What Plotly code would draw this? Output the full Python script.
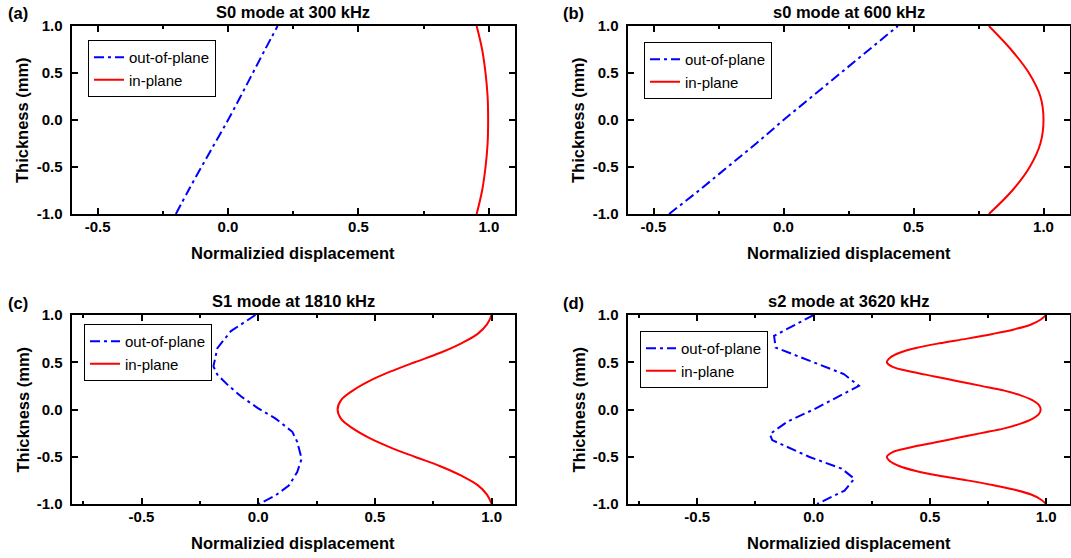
import plotly.graph_objects as go

W, H = 1071, 558

# ---------------- data ----------------
a_thick = [-1.0, -0.75, -0.5, -0.25, 0.0, 0.25, 0.5, 0.75, 1.0]
a_out = [-0.20, -0.152, -0.102, -0.051, 0.0, 0.048, 0.095, 0.142, 0.19]
a_in = [0.953, 0.974, 0.987, 0.995, 0.997, 0.995, 0.987, 0.974, 0.953]

b_thick = [-1.0, -0.75, -0.5, -0.25, 0.0, 0.25, 0.5, 0.75, 1.0]
b_out = [-0.44, -0.325, -0.215, -0.105, 0.0, 0.11, 0.22, 0.33, 0.44]
b_in = [0.79, 0.88, 0.947, 0.988, 1.0, 0.988, 0.944, 0.875, 0.79]

c_out_thick = [1.0, 0.83, 0.65, 0.51, 0.456, 0.368, 0.261, 0.137, 0.012,
               -0.094, -0.236, -0.343, -0.52, -0.663, -0.805, -0.911, -1.0]
c_out = [-0.012, -0.117, -0.175, -0.189, -0.192, -0.175, -0.131, -0.073, 0.0,
         0.073, 0.146, 0.167, 0.186, 0.167, 0.131, 0.073, 0.003]
c_in_thick = [1.0, 0.9, 0.8, 0.7, 0.6, 0.5, 0.4, 0.3, 0.2, 0.1, 0.0,
              -0.1, -0.2, -0.3, -0.4, -0.5, -0.6, -0.7, -0.8, -0.9, -1.0]
c_in = [1.0, 0.98, 0.94, 0.87, 0.78, 0.67, 0.565, 0.475, 0.405, 0.355, 0.34,
        0.355, 0.405, 0.475, 0.565, 0.67, 0.78, 0.87, 0.94, 0.98, 1.0]

d_out_thick = [1.0, 0.875, 0.779, 0.655, 0.5, 0.375, 0.25, 0.125, 0.0,
               -0.125, -0.26, -0.324, -0.5, -0.625, -0.733, -0.858, -1.0]
d_out = [0.0, -0.10, -0.17, -0.163, -0.005, 0.13, 0.195, 0.10, 0.0,
         -0.11, -0.188, -0.178, -0.02, 0.12, 0.175, 0.133, 0.015]
d_in_thick = [1.0, 0.95, 0.9, 0.85, 0.8, 0.75, 0.7, 0.65, 0.6, 0.55, 0.5,
              0.45, 0.4, 0.35, 0.3, 0.25, 0.2, 0.15, 0.1, 0.05, 0.0,
              -0.05, -0.1, -0.15, -0.2, -0.25, -0.3, -0.35, -0.4, -0.45, -0.5,
              -0.55, -0.6, -0.65, -0.7, -0.75, -0.8, -0.85, -0.9, -0.95, -1.0]
d_in = [1.0, 0.975, 0.935, 0.865, 0.77, 0.66, 0.54, 0.44, 0.37, 0.33, 0.315,
        0.34, 0.42, 0.52, 0.62, 0.72, 0.82, 0.89, 0.94, 0.968, 0.976,
        0.968, 0.94, 0.89, 0.82, 0.72, 0.62, 0.52, 0.42, 0.34, 0.315,
        0.33, 0.37, 0.44, 0.54, 0.66, 0.77, 0.865, 0.935, 0.975, 1.0]

titles = ["S0 mode at 300 kHz", "s0 mode at 600 kHz", "S1 mode at 1810 kHz", "s2 mode at 3620 kHz"]
letters = ["(a)", "(b)", "(c)", "(d)"]
x_ranges = [[-0.6, 1.1], [-0.6, 1.1], [-0.8, 1.1], [-0.8, 1.1]]
x_ticks = [-0.5, 0.0, 0.5, 1.0]
x_ticklabels = ["-0.5", "0.0", "0.5", "1.0"]
y_ticks = [-1.0, -0.5, 0.0, 0.5, 1.0]
y_ticklabels = ["-1.0", "-0.5", "0.0", "0.5", "1.0"]
series_names = ["out-of-plane", "in-plane"]
x_label = "Normalizied displacement"
y_label = "Thickness (mm)"

panels = [
    (a_out, a_thick, a_in, a_thick, "spline", "spline"),
    (b_out, b_thick, b_in, b_thick, "linear", "spline"),
    (c_out, c_out_thick, c_in, c_in_thick, "linear", "spline"),
    (d_out, d_out_thick, d_in, d_in_thick, "linear", "spline"),
]

# ---------------- layout geometry (pixels) ----------------
col_px = [(71.5, 515.0), (627.5, 1069.5)]
row_px = [(26.0, 214.0), (315.0, 504.0)]
legend_px = [(88, 40), (644, 42), (84, 324), (640, 331)]

FONT = "Arial, Liberation Sans, sans-serif"
BLUE = "#0000ff"
RED = "#ff0000"

fig = go.Figure()
layout = dict(
    width=W, height=H, autosize=False,
    margin=dict(l=0, r=0, t=0, b=0, autoexpand=False),
    paper_bgcolor="white", plot_bgcolor="white",
    font=dict(family=FONT, color="black"),
    annotations=[],
)

for i, (xo, yo, xi, yi, sh_o, sh_i) in enumerate(panels):
    r, c = divmod(i, 2)
    n = "" if i == 0 else str(i + 1)
    xa, ya = "x" + n, "y" + n
    leg = "legend" if i == 0 else "legend" + str(i + 1)
    fig.add_trace(go.Scatter(
        x=xo, y=yo, mode="lines", name=series_names[0], xaxis=xa, yaxis=ya,
        legend=leg, line=dict(color=BLUE, width=2, dash="10px,4px,3px,4px", shape=sh_o)))
    fig.add_trace(go.Scatter(
        x=xi, y=yi, mode="lines", name=series_names[1], xaxis=xa, yaxis=ya,
        legend=leg, line=dict(color=RED, width=2, shape=sh_i, smoothing=1.0)))

    x0, x1 = col_px[c]
    y0, y1 = row_px[r]
    axis_common = dict(
        showline=True, linecolor="black", linewidth=2, mirror="allticks",
        ticks="inside", ticklen=6, tickwidth=1.5, tickcolor="black",
        showgrid=False, zeroline=False, automargin=False,
        tickfont=dict(family=FONT, size=15, color="black", weight="bold"),
    )
    layout["xaxis" + n] = dict(
        axis_common, domain=[x0 / W, x1 / W], range=x_ranges[i], anchor=ya,
        tickvals=x_ticks, ticktext=x_ticklabels, ticklabelstandoff=-2,
        minor=dict(ticks="inside", ticklen=3, tickwidth=1.5, tickcolor="black",
                   tickvals=[-0.75, -0.25, 0.25, 0.75]),
    )
    layout["yaxis" + n] = dict(
        axis_common, domain=[1 - y1 / H, 1 - y0 / H], range=[-1.0, 1.0], anchor=xa,
        tickvals=y_ticks, ticktext=y_ticklabels, ticklabelstandoff=4,
    )
    lx, ly = legend_px[i]
    layout[leg] = dict(
        x=lx / W, y=1 - ly / H, xanchor="left", yanchor="top",
        bgcolor="white", bordercolor="black", borderwidth=1,
        font=dict(family=FONT, size=15, color="black"),
        tracegroupgap=0, itemwidth=30,
    )
    cx = (x0 + x1) / 2
    layout["annotations"] += [
        dict(text=titles[i], x=cx / W, y=1 - (y0 - 14) / H, xref="paper", yref="paper",
             showarrow=False, xanchor="center", yanchor="middle",
             font=dict(family=FONT, size=16.5, color="black", weight="bold")),
        dict(text=x_label, x=cx / W, y=1 - (y1 + 39) / H, xref="paper", yref="paper",
             showarrow=False, xanchor="center", yanchor="middle",
             font=dict(family=FONT, size=16.5, color="black", weight="bold")),
        dict(text=y_label, x=(x0 - 49.5) / W, y=1 - ((y0 + y1) / 2) / H, xref="paper", yref="paper",
             showarrow=False, xanchor="center", yanchor="middle", textangle=-90,
             font=dict(family=FONT, size=16.5, color="black", weight="bold")),
        dict(text=letters[i], x=(x0 - 54) / W, y=1 - (y0 - 12.5) / H, xref="paper", yref="paper",
             showarrow=False, xanchor="center", yanchor="middle",
             font=dict(family=FONT, size=16.5, color="black", weight="bold")),
    ]

fig.update_layout(**layout)
fig.write_html("out.html")
